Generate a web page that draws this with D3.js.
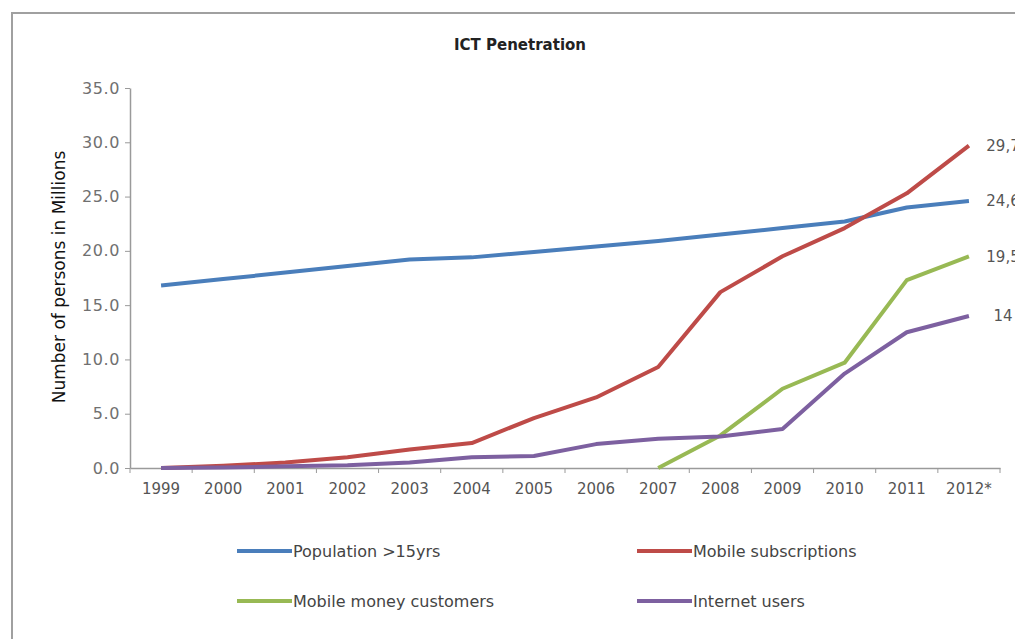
<!DOCTYPE html>
<html><head><meta charset="utf-8">
<script src="https://cdn.jsdelivr.net/npm/d3@7"></script>
<style>
html,body{margin:0;padding:0;background:#fff;overflow:hidden}
svg{display:block}
text{font-family:"DejaVu Sans",sans-serif}
</style></head>
<body>
<script>
const years = ["1999","2000","2001","2002","2003","2004","2005","2006","2007","2008","2009","2010","2011","2012*"];
const population = [16.8,17.4,18.0,18.6,19.2,19.4,19.9,20.4,20.9,21.5,22.1,22.7,24.0,24.6];
const mobileSubs = [0.0,0.2,0.5,1.0,1.7,2.3,4.6,6.5,9.3,16.2,19.5,22.1,25.3,29.7];
const mobileMoney = [null,null,null,null,null,null,null,null,0.0,3.0,7.3,9.7,17.3,19.5];
const internet = [0.0,0.05,0.15,0.25,0.5,1.0,1.1,2.2,2.7,2.9,3.6,8.7,12.5,14.0];
const yTicks = [0,5,10,15,20,25,30,35];
const endLabels = ["24,6","29,7","19,5","14"];
const seriesNames = ["Population >15yrs","Mobile subscriptions","Mobile money customers","Internet users"];
const colors = ["#4a7ebb","#be4b48","#98b954","#7d60a0"];
const seriesData = [population, mobileSubs, mobileMoney, internet];

(function(){
const W = 1015, H = 639;
const svg = d3.select("body").append("svg").attr("width", W).attr("height", H);

// outer frame
svg.append("rect").attr("x",12).attr("y",13).attr("width",1100).attr("height",700)
  .attr("fill","#fff").attr("stroke","#a0a0a0").attr("stroke-width",2);

const mLeft = 130, mRight = 1000, mTop = 88, mBottom = 468;
const x = d3.scaleBand().domain(years).range([mLeft, mRight]);
const y = d3.scaleLinear().domain([0,35]).range([mBottom, mTop]);

// title
svg.append("text").attr("x",520).attr("y",50).attr("text-anchor","middle")
  .attr("font-size",15).attr("font-weight",600).attr("fill","#222").text("ICT Penetration");

// y axis
const yAxis = svg.append("g").attr("transform",`translate(${mLeft},0)`)
  .call(d3.axisLeft(y).tickValues(yTicks).tickFormat(d3.format(".1f")).tickSize(5).tickSizeOuter(0));
yAxis.select(".domain").attr("stroke","#9a9a9a").attr("stroke-width",1.5);
yAxis.selectAll(".tick line").attr("stroke","#9a9a9a");
yAxis.selectAll(".tick text").attr("font-size",16).attr("fill","#707070").attr("x",-10)
  .attr("letter-spacing","0.6px").style("font-family","DejaVu Sans");

// x axis
const xAxis = svg.append("g").attr("transform",`translate(0,${mBottom})`)
  .call(d3.axisBottom(x).tickSize(0).tickSizeOuter(0));
xAxis.select(".domain").attr("stroke","#9a9a9a").attr("stroke-width",1.5);
xAxis.selectAll(".tick text").attr("font-size",15).attr("fill","#555").attr("dy","1.5em")
  .style("font-family","DejaVu Sans");
// category boundary ticks
const bounds = years.map(d => x(d)).concat([x(years[years.length-1]) + x.bandwidth()]);
svg.append("g").selectAll("line").data(bounds).join("line")
  .attr("x1",d=>d).attr("x2",d=>d).attr("y1",mBottom).attr("y2",mBottom+5)
  .attr("stroke","#9a9a9a");

// y axis title
svg.append("text").attr("transform",`translate(65,277) rotate(-90)`).attr("text-anchor","middle")
  .attr("font-size",17).attr("fill","#111").text("Number of persons in Millions");

// lines
const line = d3.line().defined(d => d != null)
  .x((d,i) => x(years[i]) + x.bandwidth()/2).y(d => y(d));
seriesData.forEach((s,k) => {
  svg.append("path").datum(s).attr("d", line).attr("fill","none")
    .attr("stroke", colors[k]).attr("stroke-width",4).attr("stroke-linejoin","round");
});

// end labels
seriesData.forEach((s,k) => {
  const v = s[s.length-1];
  svg.append("text").attr("x", 1003).attr("y", y(v)).attr("dy","0.35em")
    .attr("text-anchor","middle").attr("font-size",15).attr("fill","#555").text(endLabels[k]);
});

// legend
const legPos = [[237,551],[637,551],[237,601],[637,601]];
seriesNames.forEach((n,k) => {
  const [lx,ly] = legPos[k];
  svg.append("line").attr("x1",lx).attr("x2",lx+55).attr("y1",ly).attr("y2",ly)
    .attr("stroke",colors[k]).attr("stroke-width",4);
  svg.append("text").attr("x",lx+56).attr("y",ly).attr("dy","0.35em")
    .attr("font-size",16).attr("fill","#444").text(n);
});
})();
</script>
</body></html>
